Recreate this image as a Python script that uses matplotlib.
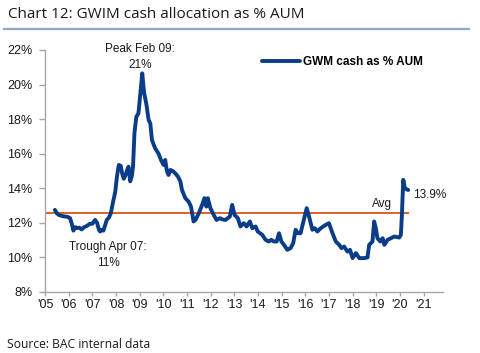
import matplotlib
matplotlib.use("Agg")
import matplotlib.pyplot as plt
from matplotlib.lines import Line2D
from matplotlib.ticker import FuncFormatter, FixedLocator

# ---- data (decimal year, % of AUM) ----
years = [
    2005.42, 2005.50, 2005.60, 2005.78, 2005.95, 2006.06, 2006.13, 2006.20, 2006.28, 2006.36,
    2006.45, 2006.55, 2006.65, 2006.77, 2006.90, 2007.00, 2007.12, 2007.20, 2007.28, 2007.33,
    2007.40, 2007.47, 2007.55, 2007.61, 2007.70, 2007.78, 2007.89, 2007.97, 2008.04, 2008.12,
    2008.20, 2008.27, 2008.33, 2008.40, 2008.47, 2008.53, 2008.60, 2008.67, 2008.72, 2008.78,
    2008.86, 2008.95, 2009.03, 2009.11, 2009.19, 2009.28, 2009.38, 2009.45, 2009.52, 2009.60,
    2009.66, 2009.80, 2009.90, 2010.01, 2010.08, 2010.15, 2010.22, 2010.30, 2010.40, 2010.50,
    2010.62, 2010.72, 2010.79, 2010.93, 2011.07, 2011.17, 2011.28, 2011.36, 2011.50, 2011.64,
    2011.74, 2011.82, 2011.88, 2011.99, 2012.13, 2012.25, 2012.39, 2012.50, 2012.63, 2012.81,
    2012.91, 2013.01, 2013.15, 2013.26, 2013.40, 2013.52, 2013.66, 2013.76, 2013.90, 2013.99,
    2014.18, 2014.32, 2014.46, 2014.56, 2014.67, 2014.79, 2014.89, 2014.99, 2015.10, 2015.24,
    2015.38, 2015.49, 2015.59, 2015.69, 2015.80, 2015.94, 2016.06, 2016.16, 2016.30, 2016.40,
    2016.51, 2016.65, 2016.86, 2017.00, 2017.15, 2017.29, 2017.43, 2017.53, 2017.64, 2017.78,
    2017.89, 2018.00, 2018.14, 2018.28, 2018.49, 2018.63, 2018.70, 2018.84, 2018.91, 2018.98,
    2019.05, 2019.17, 2019.27, 2019.34, 2019.48, 2019.62, 2019.76, 2019.97, 2020.04, 2020.08,
    2020.14, 2020.21, 2020.35,
]
cash_pct = [
    12.75, 12.55, 12.45, 12.38, 12.35, 12.27, 11.95, 11.55, 11.75, 11.70,
    11.72, 11.62, 11.75, 11.82, 11.95, 11.95, 12.17, 12.00, 11.60, 11.50,
    11.60, 11.55, 11.90, 12.17, 12.30, 12.55, 13.30, 13.80, 14.68, 15.35,
    15.30, 14.80, 14.55, 14.75, 15.06, 15.25, 14.40, 14.70, 15.25, 17.20,
    18.14, 18.34, 19.50, 20.65, 19.50, 18.90, 17.95, 17.76, 16.80, 16.50,
    16.30, 16.00, 15.64, 15.35, 15.64, 15.00, 14.77, 15.06, 15.00, 14.87,
    14.68, 14.40, 13.90, 13.43, 13.23, 12.94, 12.08, 12.17, 12.56, 13.04,
    13.43, 12.94, 13.43, 12.85, 12.46, 12.17, 12.27, 12.20, 12.17, 12.36,
    13.04, 12.46, 12.27, 11.79, 11.98, 11.79, 12.08, 11.69, 11.79, 11.50,
    11.31, 11.02, 10.92, 11.02, 10.92, 10.92, 11.40, 10.92, 10.73, 10.44,
    10.54, 10.83, 11.60, 11.40, 11.40, 12.17, 12.85, 12.36, 11.60, 11.69,
    11.50, 11.69, 11.88, 11.98, 11.40, 10.92, 10.73, 10.54, 10.63, 10.34,
    10.44, 9.96, 10.25, 9.96, 9.96, 10.00, 10.73, 10.92, 12.08, 11.69,
    11.11, 10.92, 11.11, 10.73, 11.02, 11.11, 11.21, 11.15, 11.31, 12.36,
    14.49, 14.00, 13.90,
]
avg_value = 12.55
avg_span = [2005.0, 2020.35]
x_ticks = list(range(2005, 2022))
y_ticks = [8, 10, 12, 14, 16, 18, 20, 22]
series_label = "GWM cash as % AUM"
title = "Chart 12: GWIM cash allocation as % AUM"
source = "Source: BAC internal data"

# ---- figure ----
W, H, DPI = 480, 353, 100
fig = plt.figure(figsize=(W / DPI, H / DPI), dpi=DPI)
ax = fig.add_axes([45 / W, 61 / H, (443 - 45) / W, (292 - 50) / H])

navy = "#0A3C87"
orange = "#E0602A"
arial = "Liberation Sans"

ax.plot(avg_span, [avg_value, avg_value], color=orange, lw=1.4, zorder=2)
line, = ax.plot(years, cash_pct, color=navy, lw=2.8, solid_joinstyle="round",
                solid_capstyle="round", zorder=3, label=series_label)

ax.set_xlim(2005, 2021.82)
ax.set_ylim(8, 22)
ax.xaxis.set_major_locator(FixedLocator(x_ticks))
ax.yaxis.set_major_locator(FixedLocator(y_ticks))
ax.xaxis.set_major_formatter(FuncFormatter(lambda v, p: "'%02d" % (int(round(v)) % 100)))
ax.yaxis.set_major_formatter(FuncFormatter(lambda v, p: "%d%%" % v))

for s in ["top", "right"]:
    ax.spines[s].set_visible(False)
for s in ["left", "bottom"]:
    ax.spines[s].set_color("#A6A6A6")
    ax.spines[s].set_linewidth(1.0)
ax.tick_params(axis="both", colors="#A6A6A6", labelcolor="#1a1a1a", width=1.0)
ax.tick_params(axis="y", length=4, pad=5)
ax.tick_params(axis="x", length=3, pad=2)
for lab in ax.get_xticklabels() + ax.get_yticklabels():
    lab.set_fontfamily(arial)
    lab.set_fontsize(9)

# annotations
ax.text(2009.01, 22.05, "Peak Feb 09:", ha="center", va="center", fontsize=8.5,
        family=arial, color="#1a1a1a", clip_on=False)
ax.text(2009.01, 21.13, "21%", ha="center", va="center", fontsize=8.5,
        family=arial, color="#1a1a1a")
ax.text(2007.66, 10.61, "Trough Apr 07:", ha="center", va="center", fontsize=8.5,
        family=arial, color="#1a1a1a")
ax.text(2007.66, 9.69, "11%", ha="center", va="center", fontsize=8.5,
        family=arial, color="#1a1a1a")
ax.text(2019.24, 13.1, "Avg", ha="center", va="center", fontsize=8.5,
        family=arial, color="#1a1a1a")
ax.text(2021.27, 13.62, "13.9%", ha="center", va="center", fontsize=8.5,
        family=arial, color="#1a1a1a", clip_on=False)

leg = fig.legend(handles=[line], labels=[series_label], loc="center left",
                 bbox_to_anchor=(262 / W, (H - 62) / H), bbox_transform=fig.transFigure,
                 frameon=False, borderpad=0, borderaxespad=0, handlelength=3.2,
                 handletextpad=0.3, prop={"family": arial, "weight": "bold", "size": 8.5})

# title, rule and source
fig.text(8 / W, (H - 15) / H, title, ha="left", va="center", fontsize=11,
         family="Open Sans", color="#1a1a1a")
fig.add_artist(Line2D([4 / W, 469 / W], [(H - 29) / H] * 2, transform=fig.transFigure,
                      color="#8FA8C8", lw=1.6))
fig.text(7 / W, (H - 344) / H, source, ha="left", va="center", fontsize=8.7,
         family="Open Sans", color="#1a1a1a")

fig.savefig("out.png", dpi=DPI)
